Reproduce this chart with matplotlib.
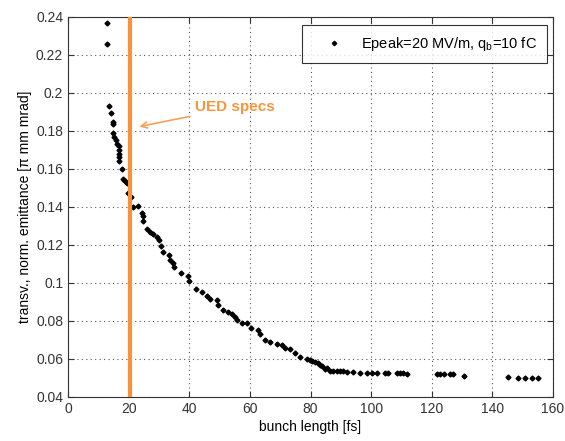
import matplotlib
matplotlib.use("Agg")
import matplotlib.pyplot as plt

plt.rcParams["font.family"] = ["Liberation Sans", "DejaVu Sans"]

# bunch length [fs] vs. transverse normalised emittance [pi mm mrad]
bunch_length = [
    13.0, 13.0, 13.6, 14.1, 14.7, 14.9, 14.7, 15.3, 15.7, 16.3, 16.7, 16.7,
    16.7, 16.9, 16.9, 17.7, 18.3, 18.9, 19.4, 19.7, 20.9, 21.3, 23.0, 24.3,
    24.6, 24.8, 26.2, 27.1, 27.9, 29.3, 30.1, 30.6, 31.2, 33.4, 33.7, 34.5,
    35.0, 37.2, 39.5, 40.0, 42.2, 44.1, 46.0, 46.8, 49.1, 49.6, 51.2, 52.9,
    54.0, 55.1, 55.7, 57.3, 59.0, 60.3, 62.8, 63.3, 65.0, 66.6, 68.9, 70.5,
    71.6, 73.2, 74.9, 76.5, 78.7, 79.8, 80.4, 81.5, 82.6, 83.1, 83.7, 84.8,
    85.4, 86.4, 87.5, 88.6, 89.6, 90.7, 92.0, 94.1, 96.3, 98.5, 100.2, 101.8,
    104.6, 105.7, 108.4, 109.5, 110.6, 111.9, 121.6, 122.7, 124.0, 126.0,
    127.1, 130.6, 145.3, 148.6, 150.8, 153.2, 155.2,
]
emittance = [
    0.237, 0.226, 0.1932, 0.1893, 0.1846, 0.1835, 0.179, 0.177, 0.1753, 0.173,
    0.172, 0.170, 0.168, 0.1665, 0.164, 0.1598, 0.1546, 0.1535, 0.1524, 0.1472,
    0.1451, 0.140, 0.1405, 0.1367, 0.135, 0.1328, 0.1283, 0.127, 0.1258, 0.1244,
    0.1226, 0.1195, 0.1165, 0.1147, 0.1121, 0.1103, 0.1083, 0.1054, 0.1037,
    0.1012, 0.0967, 0.0954, 0.0932, 0.0916, 0.091, 0.0884, 0.0858, 0.0849,
    0.0837, 0.0823, 0.0805, 0.0791, 0.0788, 0.0765, 0.0753, 0.0732, 0.070,
    0.0691, 0.0679, 0.0674, 0.0660, 0.0651, 0.0633, 0.0612, 0.060, 0.0595,
    0.059, 0.0586, 0.0578, 0.0568, 0.0564, 0.0545, 0.055, 0.0539, 0.0539,
    0.0539, 0.0538, 0.0537, 0.0533, 0.053, 0.0528, 0.0528, 0.0525, 0.0525,
    0.0525, 0.0525, 0.0525, 0.0525, 0.0525, 0.052, 0.052, 0.052, 0.052, 0.052,
    0.052, 0.0511, 0.0507, 0.050, 0.050, 0.050, 0.0498,
]

ued_spec = 20.5
x_ticks = [0, 20, 40, 60, 80, 100, 120, 140, 160]
y_ticks = [0.04, 0.06, 0.08, 0.1, 0.12, 0.14, 0.16, 0.18, 0.2, 0.22, 0.24]
y_ticklabels = ["0.04", "0.06", "0.08", "0.1", "0.12", "0.14", "0.16",
                "0.18", "0.2", "0.22", "0.24"]

fig = plt.figure(figsize=(5.65, 4.41), dpi=100)
ax = fig.add_axes([0.1204, 0.0998, 0.8584, 0.8617])

ax.plot(bunch_length, emittance, linestyle="none", marker="D", markersize=2.5,
        color="black", label=r"Epeak=20 MV/m, q$_\mathregular{b}$=10 fC")
ax.axvline(ued_spec, color="#F7923A", linewidth=3, zorder=3)

ax.annotate("UED specs", xy=(23.5, 0.1823), xytext=(42, 0.1925),
            color="#F7963E", fontsize=11, fontweight="bold", va="center",
            arrowprops=dict(arrowstyle="->", color="#F7A05A", lw=1.2,
                            shrinkA=2, shrinkB=0))

ax.set_xlim(0, 160)
ax.set_ylim(0.04, 0.24)
ax.set_xticks(x_ticks)
ax.set_yticks(y_ticks)
ax.set_yticklabels(y_ticklabels)
ax.tick_params(direction="in", top=True, right=True, labelsize=10, length=4,
               colors="#333333")
ax.grid(True, linestyle=(0, (1, 3)), color="#555555", linewidth=0.8)
for spine in ax.spines.values():
    spine.set_color("#333333")

ax.set_xlabel("bunch length [fs]", fontsize=10, labelpad=3)
ax.set_ylabel("transv., norm. emittance [π mm mrad]", fontsize=10, labelpad=3)

leg = ax.legend(loc="upper right", fontsize=10.5, frameon=True, fancybox=False,
                handlelength=3.0, handletextpad=0.35, borderpad=0.7,
                markerscale=0.9, borderaxespad=0,
                bbox_to_anchor=(0.9876, 0.979))
leg.get_frame().set_edgecolor("black")
leg.get_frame().set_linewidth(0.8)

fig.savefig("out.png", dpi=100)
